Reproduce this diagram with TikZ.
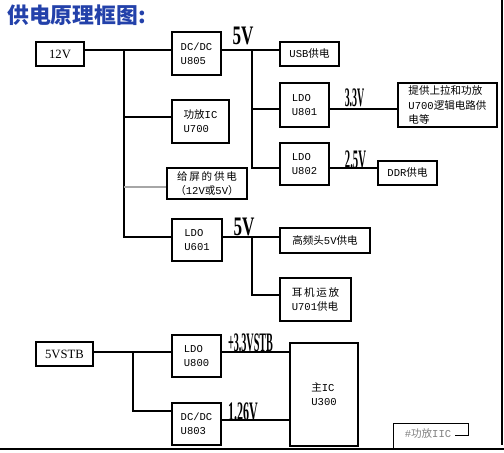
\documentclass[tikz,border=0pt]{standalone}
\usepackage{fontspec}
\setmainfont{Liberation Serif}
\setmonofont{Liberation Mono}
\newfontfamily\cjk{Noto Sans CJK SC}
\newfontfamily\voltfont{Liberation Serif}
\usetikzlibrary{positioning}
\definecolor{titleblue}{RGB}{35,65,170}
\newcommand\boxfont{\ttfamily\fontsize{7.5}{10}\selectfont}
\newcommand\lblfont{\rmfamily\fontsize{9}{10}\selectfont}

\begin{document}
\begin{tikzpicture}[x=0.025cm,y=-0.025cm,line width=0.8pt,
  blk/.style 2 args={draw,minimum width=#1cm,minimum height=#2cm,align=left,inner sep=1pt,font=\boxfont},
  volt/.style={inner sep=0pt,xscale=#1,font=\voltfont\bfseries\fontsize{19}{19}\selectfont}]
\useasboundingbox (0,0) rectangle (504,452);

\node[anchor=west,text=titleblue,font=\cjk\bfseries\fontsize{15.5}{16}\selectfont] (title) at (2,15) {供电原理框图:};

% 12V side
\node[blk={1.2}{0.6},font=\lblfont] (v12) at (60,54) {12V};
\node[blk={1.225}{1.075}] (u805) at (196.5,53.5) {DC/DC\\U805};
\node[blk={1.425}{1.075}] (u700) at (200.5,121.5) {{\cjk 功放}IC\\U700};
\node[blk={2.0}{0.775},align=center] (scr) at (207,183.5) {{\cjk 给\,屏\,的\,供\,电}\\{\cjk （}12V{\cjk 或}5V{\cjk ）}};
\node[blk={1.25}{1.05}] (u601) at (197,240) {LDO\\U601};
\node[blk={1.475}{0.6}] (usb) at (309.5,54) {USB{\cjk 供电}};
\node[blk={1.225}{1.1}] (u801) at (304.5,105) {LDO\\U801};
\node[blk={1.225}{1.05}] (u802) at (304.5,164) {LDO\\U802};
\node[blk={2.475}{1.1}] (misc) at (447.5,105) {{\cjk 提供上拉和功放}\\U700{\cjk 逻辑电路供}\\{\cjk 电等}};
\node[blk={1.475}{0.6}] (ddr) at (407.5,173) {DDR{\cjk 供电}};
\node[blk={2.25}{0.625}] (tuner) at (325,240.5) {{\cjk 高频头}5V{\cjk 供电}};
\node[blk={1.775}{1.075}] (u701) at (315.5,299.5) {{\cjk 耳\,机\,运\,放}\\U701{\cjk 供电}};

% standby side
\node[blk={1.425}{0.6},font=\lblfont] (stb) at (64.5,354) {5VSTB};
\node[blk={1.225}{1.05}] (u800) at (196.5,356) {LDO\\U800};
\node[blk={1.225}{1.05}] (u803) at (196.5,424) {DC/DC\\U803};
\node[blk={1.7}{2.575}] (u300) at (324,394.5) {{\cjk 主}IC\\U300};

% rail labels
\node[volt=0.64] (l5a) at (243,36) {5V};
\node[volt=0.64] (l5b) at (244,227) {5V};
\node[volt=0.37] (l33) at (354.5,97.5) {3.3V};
\node[volt=0.40] (l25) at (355.5,159.5) {2.5V};
\node[volt=0.38] (lstb) at (250.5,343) {+3.3VSTB};
\node[volt=0.45] (l126) at (243,412) {1.26V};

% bus points
\coordinate (ta) at (124,50);
\coordinate (tb) at (124,117);
\coordinate (tc) at (124,187);
\coordinate (td) at (124,237);
\coordinate (va) at (252,50);
\coordinate (vb) at (252,109);
\coordinate (vc) at (252,168);
\coordinate (vd) at (252,237);
\coordinate (ve) at (252,295);
\coordinate (sa) at (133,352);
\coordinate (sb) at (133,411);
\coordinate (sc) at (250,420);

\draw (v12.east |- ta) -- (u805.west |- ta);
\draw (ta) -- (td) -- (u601.west |- td);
\draw (tb) -- (u700.west |- tb);
\draw[gray!70] (tc) -- (scr.west |- tc);
\draw (u805.east |- va) -- (usb.west |- va);
\draw (va) -- (vc) -- (u802.west |- vc);
\draw (vb) -- (u801.west |- vb);
\draw (u801.east |- vb) -- (misc.west |- vb);
\draw (u802.east |- vc) -- (ddr.west |- vc);
\draw (u601.east |- vd) -- (tuner.west |- vd);
\draw (vd) -- (ve) -- (u701.west |- ve);
\draw (stb.east |- sa) -- (u800.west |- sa);
\draw (sa) -- (sb) -- (u803.west |- sb);
\draw (u800.east |- sa) -- (u300.west |- sa);
\draw (u803.east |- sc) -- (u300.west |- sc);

% corner mark and frame
\draw[line width=0.6pt] (393,449) -- (393,423) -- (468,423) -- (468,435) -- (455,435);
\node[font=\boxfont,text=gray] (iic) at (428,433) {\#{\cjk 功放}IIC};
\draw[line width=1pt] (502,0) -- (502,445);
\draw[line width=1.2pt] (0,449) -- (504,449);
\end{tikzpicture}
\end{document}
